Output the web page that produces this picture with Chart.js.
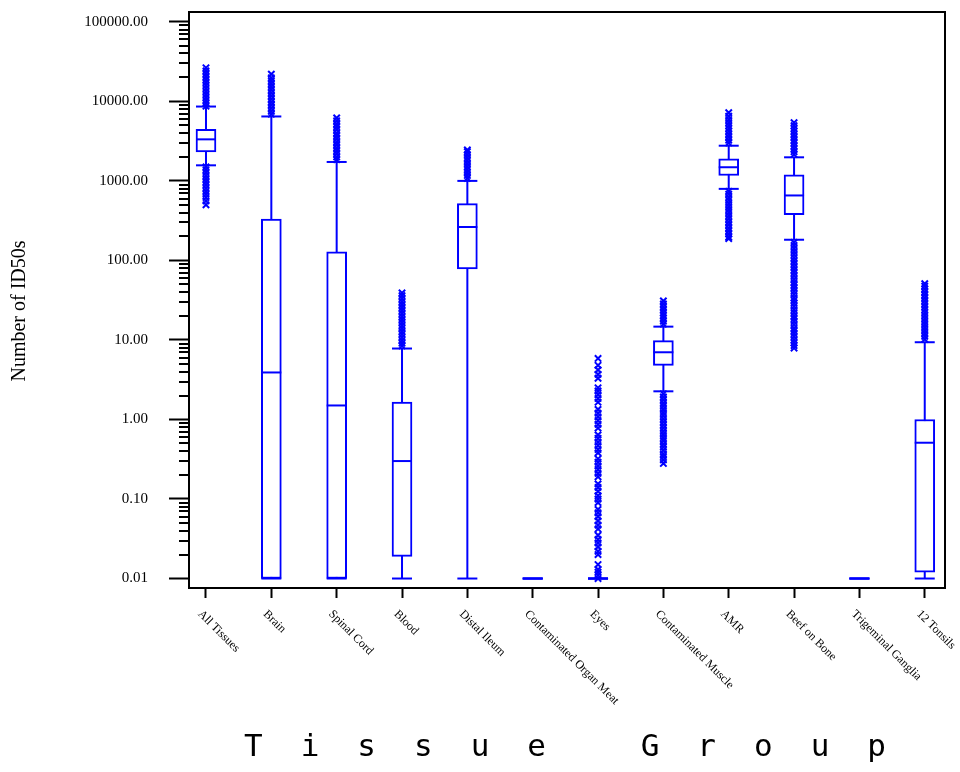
<!DOCTYPE html>
<html>
<head>
<meta charset="utf-8">
<style>
  html, body { margin: 0; padding: 0; background: #fff; }
  #wrap { width: 960px; height: 772px; }
</style>
<script src="https://cdn.jsdelivr.net/npm/chart.js@4.4.1/dist/chart.umd.min.js"></script>
</head>
<body>
<div id="wrap"><canvas id="chart"></canvas></div>
<script>
// categories and box statistics
const categories = ["All Tissues", "Brain", "Spinal Cord", "Blood", "Distal Ileum",
  "Contaminated Organ Meat", "Eyes", "Contaminated Muscle", "AMR", "Beef on Bone",
  "Trigeminal Ganglia", "12 Tonsils"];
const whiskerLow  = [1570, 0.01, 0.01, 0.01, 0.01, 0.01, 0.01, 2.26, 794, 182, 0.01, 0.01];
const q1          = [2310, 0.01, 0.01, 0.019, 78, 0.01, 0.01, 4.8, 1168, 375, 0.01, 0.012];
const median      = [3330, 3.9, 1.5, 0.30, 263, 0.01, 0.01, 7.0, 1485, 656, 0.01, 0.51];
const q3          = [4440, 331, 128, 1.65, 518, 0.01, 0.01, 9.8, 1890, 1190, 0.01, 1.0];
const whiskerHigh = [8610, 6460, 1730, 7.8, 1000, 0.01, 0.01, 14.7, 2770, 1980, 0.01, 9.36];

// outliers (x markers), one list per category
const outliers = [
  [8700, 9500, 10300, 11200, 12200, 13300, 14500, 15800, 17200, 18700, 20400, 22200, 24200, 26400,
   1500, 1380, 1270, 1160, 1060, 970, 890, 810, 740, 680, 620, 560, 500],
  [6900, 7500, 8200, 9000, 9800, 10700, 11700, 12800, 14000, 15300, 16700, 18200, 19800, 22000],
  [1850, 2000, 2200, 2400, 2600, 2850, 3100, 3400, 3700, 4000, 4400, 4800, 5200, 5700, 6200],
  [8.4, 9.1, 9.9, 10.8, 11.8, 12.8, 14, 15.2, 16.6, 18, 19.6, 21.4, 23.3, 25.4, 27.7, 30.2, 33, 36, 39],
  [1080, 1170, 1280, 1390, 1510, 1650, 1800, 1960, 2140, 2330, 2450],
  [],
  [0.010, 0.011, 0.012, 0.013, 0.015, 0.020, 0.022, 0.025, 0.028, 0.031, 0.035,
   0.042, 0.047, 0.053, 0.060, 0.067, 0.074, 0.09, 0.10, 0.11, 0.125, 0.14, 0.155,
   0.19, 0.21, 0.235, 0.26, 0.29, 0.32, 0.38, 0.42, 0.47, 0.52, 0.58, 0.64,
   0.78, 0.87, 0.97, 1.08, 1.2, 1.34, 1.65, 1.84, 2.05, 2.28, 2.5, 3.3, 3.7, 4.2, 4.8, 5.85],
  [15.8, 17.2, 18.7, 20.3, 22, 24, 26.1, 28.4, 31,
   2.1, 1.92, 1.76, 1.6, 1.47, 1.34, 1.22, 1.12, 1.02, 0.93, 0.85, 0.78, 0.71, 0.65, 0.59, 0.54,
   0.49, 0.45, 0.41, 0.37, 0.34, 0.31, 0.28],
  [3000, 3250, 3550, 3850, 4200, 4550, 4950, 5400, 5900, 6500, 7200,
   740, 680, 620, 570, 520, 475, 435, 400, 365, 335, 305, 280, 255, 235, 215, 197, 188],
  [2150, 2330, 2530, 2750, 3000, 3250, 3550, 3850, 4200, 4550, 4950, 5400,
   168, 154, 141, 129, 118, 108, 99, 91, 83, 76, 70, 64, 58, 53, 49, 45, 41, 37.5, 34, 31.5, 29,
   26.5, 24, 22, 20, 18.5, 17, 15.5, 14, 13, 12, 11, 10, 9.2, 8.5, 7.9],
  [],
  [10.2, 11.1, 12.1, 13.2, 14.4, 15.7, 17.1, 18.6, 20.3, 22.1, 24, 26.2, 28.5, 31, 33.8, 36.8, 40,
   43.6, 47.5, 51]
];

const yTickValues = [0.01, 0.1, 1, 10, 100, 1000, 10000, 100000];

const BLUE = "#0000ff";
const SERIF = '"Liberation Serif", "Times New Roman", serif';

const boxData = categories.map((c, i) => ({ x: i, y: [q1[i], q3[i]] }));
const medianData = categories.map((c, i) => ({ x: i, y: median[i] }));
const capData = [];
const whiskerData = [];
const outlierData = [];
categories.forEach((c, i) => {
  capData.push({ x: i, y: whiskerLow[i] }, { x: i, y: whiskerHigh[i] });
  whiskerData.push({ x: i, y: whiskerLow[i] }, { x: i, y: whiskerHigh[i] }, { x: i, y: null });
  outliers[i].forEach(v => outlierData.push({ x: i, y: v }));
});

// frame, minor log ticks, rotated category labels, axis titles
const decor = {
  id: "decor",
  afterDraw(chart) {
    const { ctx, chartArea: a, scales: { x, y } } = chart;
    ctx.save();
    ctx.strokeStyle = "#000";
    ctx.lineWidth = 2;
    ctx.beginPath();
    ctx.moveTo(a.left - 1, a.top);
    ctx.lineTo(a.right, a.top);
    ctx.lineTo(a.right, a.bottom + 1);
    ctx.stroke();

    ctx.beginPath();
    for (let d = 0; d < yTickValues.length - 1; d++) {
      for (let k = 2; k <= 9; k++) {
        const py = Math.round(y.getPixelForValue(yTickValues[d] * k));
        ctx.moveTo(a.left - 10, py);
        ctx.lineTo(a.left, py);
      }
    }
    ctx.stroke();

    ctx.fillStyle = "#000";
    ctx.font = "12px " + SERIF;
    ctx.textAlign = "left";
    ctx.textBaseline = "top";
    categories.forEach((c, i) => {
      const px = x.getPixelForValue(i);
      ctx.save();
      ctx.translate(px - 2, a.bottom + 20);
      ctx.rotate(Math.PI / 4);
      ctx.fillText(c, 0, 0);
      ctx.restore();
    });

    // y title
    ctx.save();
    ctx.font = "20px " + SERIF;
    ctx.textAlign = "center";
    ctx.textBaseline = "middle";
    ctx.translate(20, 311);
    ctx.rotate(-Math.PI / 2);
    ctx.fillText("Number of ID50s", 0, 0);
    ctx.restore();

    // x title, widely spaced thin letters
    ctx.font = '200 31px "DejaVu Sans Mono", "DejaVu Sans", monospace';
    ctx.textBaseline = "middle";
    const spacing = 38;
    const title = "Tissue Group";
    let w;
    if ("letterSpacing" in ctx) {
      ctx.letterSpacing = spacing + "px";
      w = ctx.measureText(title).width - spacing;
    } else {
      w = ctx.measureText(title).width;
    }
    const cx = (a.left + a.right) / 2 - 2;
    ctx.fillText(title, cx - w / 2, 748);
    ctx.restore();
  }
};

new Chart(document.getElementById("chart"), {
  type: "bar",
  data: {
    datasets: [
      {
        type: "scatter", data: medianData, pointStyle: "line", pointRadius: 10,
        borderColor: BLUE, borderWidth: 2
      },
      {
        type: "bar", data: boxData, barThickness: 20, borderSkipped: false,
        backgroundColor: "#fff", borderColor: BLUE, borderWidth: 2
      },
      {
        type: "scatter", data: capData, pointStyle: "line", pointRadius: 10,
        borderColor: BLUE, borderWidth: 2
      },
      {
        type: "line", data: whiskerData, pointRadius: 0, borderColor: BLUE, borderWidth: 2,
        spanGaps: false, fill: false
      },
      {
        type: "scatter", data: outlierData, pointStyle: "crossRot", pointRadius: 4.5,
        borderColor: BLUE, borderWidth: 2
      }
    ]
  },
  options: {
    responsive: true,
    maintainAspectRatio: false,
    animation: false,
    layout: { padding: { top: 9, right: 15, left: 0, bottom: 0 } },
    plugins: { legend: { display: false }, tooltip: { enabled: false } },
    scales: {
      x: {
        type: "linear",
        offset: false,
        min: -0.26,
        max: 11.31,
        afterBuildTicks: s => { s.ticks = categories.map((c, i) => ({ value: i })); },
        afterFit: s => { s.height = 184; s.paddingLeft = 0; s.paddingRight = 0; },
        ticks: { display: false },
        grid: { offset: false, drawOnChartArea: false, tickLength: 10, tickWidth: 2, tickColor: "#000" },
        border: { color: "#000", width: 2 }
      },
      y: {
        type: "logarithmic",
        min: 0.0076,
        max: 133000,
        afterBuildTicks: s => { s.ticks = yTickValues.map(v => ({ value: v })); },
        afterFit: s => { s.width = 189; s.paddingTop = 0; s.paddingBottom = 0; },
        ticks: {
          color: "#000",
          padding: 21,
          font: { family: SERIF, size: 15 },
          callback: v => Number(v).toFixed(2)
        },
        grid: { drawOnChartArea: false, tickLength: 20, tickWidth: 2, tickColor: "#000" },
        border: { color: "#000", width: 2 }
      }
    }
  },
  plugins: [decor]
});
</script>
</body>
</html>
